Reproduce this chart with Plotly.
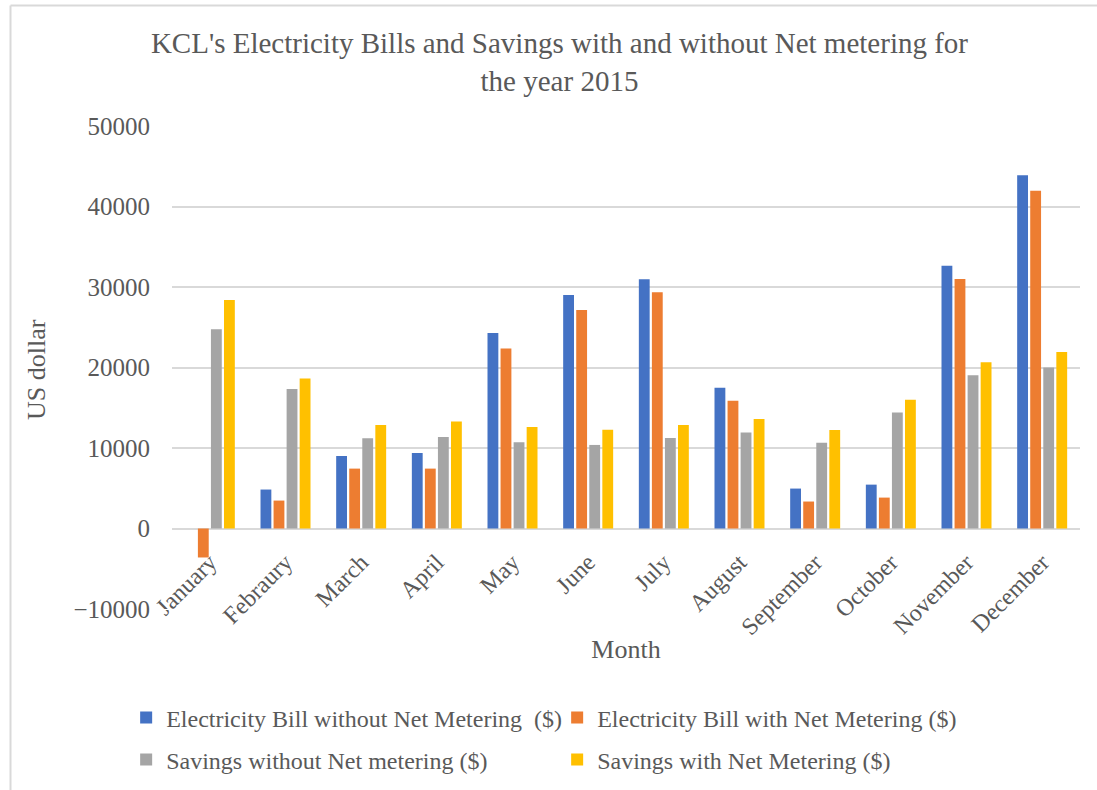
import plotly.graph_objects as go

months = ["January", "Febraury", "March", "April", "May", "June", "July",
          "August", "September", "October", "November", "December"]

bill_without_nm = [0, 4840, 9010, 9380, 24300, 29010, 30960, 17480, 4960, 5450, 32640, 43890]
bill_with_nm = [-3600, 3470, 7440, 7440, 22360, 27150, 29350, 15870, 3350, 3840, 30990, 41950]
savings_without_nm = [24760, 17320, 11200, 11370, 10700, 10380, 11240, 11940, 10660, 14420, 19050, 20000]
savings_with_nm = [28390, 18640, 12850, 13300, 12610, 12270, 12850, 13600, 12230, 15990, 20660, 21940]

FONT = "Liberation Serif"
GREY_TXT = "#595959"
W, H = 1097, 790
L, R, T, B = 172, 17, 126, 181
PW, PH = W - L - R, H - T - B

series = [
    ("Electricity Bill without Net Metering  ($)", bill_without_nm, "#4472C4", "legend"),
    ("Electricity Bill with Net Metering ($)", bill_with_nm, "#ED7D31", "legend"),
    ("Savings without Net metering ($)", savings_without_nm, "#A5A5A5", "legend2"),
    ("Savings with Net Metering ($)", savings_with_nm, "#FFC000", "legend2"),
]

fig = go.Figure()
for name, vals, color, leg in series:
    fig.add_trace(go.Bar(x=months, y=vals, name=name, marker_color=color,
                         marker_line_width=0, legend=leg))

legend_style = dict(orientation="h", xref="container", yref="container",
                    xanchor="left", yanchor="middle", x=0.115,
                    entrywidth=386, entrywidthmode="pixels",
                    font=dict(family=FONT, size=24, color=GREY_TXT),
                    bgcolor="rgba(0,0,0,0)")

ymin, ymax = -10000, 50000

fig.update_layout(
    width=W, height=H,
    paper_bgcolor="white", plot_bgcolor="white",
    font=dict(family=FONT, color=GREY_TXT),
    title=dict(text="KCL's Electricity Bills and Savings with and without Net metering for<br>the year 2015",
               x=0.51, xref="container", xanchor="center", y=1 - 53 / H, yref="container",
               yanchor="middle", font=dict(family=FONT, size=29, color=GREY_TXT)),
    margin=dict(l=L, r=R, t=T, b=B, autoexpand=False),
    barmode="group", bargap=0.31, bargroupgap=0.17,
    showlegend=True,
    legend=dict(legend_style, y=1 - 718 / H),
    legend2=dict(legend_style, y=1 - 760 / H),
    xaxis=dict(tickangle=-45, tickfont=dict(family=FONT, size=24, color=GREY_TXT),
               anchor="free", position=(0 - ymin) / (ymax - ymin), ticklabelstandoff=14,
               showline=False, showgrid=False, ticks="", automargin=False,
               title=dict(text="Month", font=dict(family=FONT, size=26, color=GREY_TXT), standoff=0)),
    yaxis=dict(range=[ymin, ymax], dtick=10000, tickformat="d", automargin=False,
               tickfont=dict(family=FONT, size=25, color=GREY_TXT),
               gridcolor="#D9D9D9", gridwidth=1.5, zeroline=True, zerolinecolor="#D9D9D9",
               zerolinewidth=1.5, showline=False, ticks="outside", ticklen=16, tickcolor="white"),
)

# y axis title, placed further left than plotly's own title would go
fig.add_annotation(text="US dollar", textangle=-90, showarrow=False,
                   xref="paper", yref="paper", x=(36 - L) / PW, y=(H - B - 370) / PH,
                   xanchor="center", yanchor="middle",
                   font=dict(family=FONT, size=26, color=GREY_TXT))

# outer chart border (left and top edges)
bx, by = 10.5, 5.5
fig.add_shape(type="line", xref="paper", yref="paper", x0=(bx - L) / PW, x1=(bx - L) / PW,
              y0=-B / PH, y1=1 + (T - by) / PH, line=dict(color="#D9D9D9", width=2))
fig.add_shape(type="line", xref="paper", yref="paper", x0=(bx - L) / PW, x1=(W - L) / PW,
              y0=1 + (T - by) / PH, y1=1 + (T - by) / PH, line=dict(color="#D9D9D9", width=2))

fig.write_html("out.html", config={"displayModeBar": False},
               post_script="document.body.style.margin='0';")
